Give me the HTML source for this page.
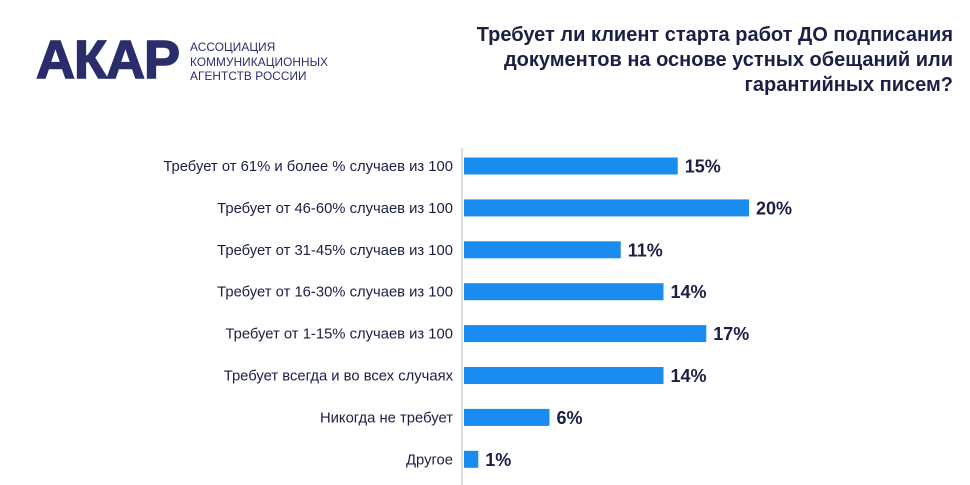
<!DOCTYPE html>
<html><head><meta charset="utf-8"><style>
body{margin:0;width:970px;height:485px;background:#fff;overflow:hidden;position:relative;font-family:"Liberation Sans","DejaVu Sans",sans-serif}
.logo{position:absolute;left:36px;top:30px;font-size:54px;font-weight:900;color:#2b2d6b;letter-spacing:-1px;line-height:60px;-webkit-text-stroke:1.5px #2b2d6b}
.logo-sub{position:absolute;left:190px;top:40px;font-size:11.8px;line-height:14.5px;color:#2b2d6b;letter-spacing:0.1px}
.title{position:absolute;right:17px;top:23px;width:560px;text-align:right;font-size:20px;font-weight:bold;line-height:25px;color:#1b1f45}
</style></head><body>
<div class="logo">АКАР</div>
<div class="logo-sub">АССОЦИАЦИЯ<br>КОММУНИКАЦИОННЫХ<br>АГЕНТСТВ РОССИИ</div>
<div class="title">Требует ли клиент старта работ ДО подписания<br>документов на основе устных обещаний или<br>гарантийных писем?</div>
<svg id="chart" width="970" height="485" style="position:absolute;left:0;top:0"></svg>
<script>
const categories=["Требует от 61% и более % случаев из 100","Требует от 46-60% случаев из 100","Требует от 31-45% случаев из 100","Требует от 16-30% случаев из 100","Требует от 1-15% случаев из 100","Требует всегда и во всех случаях","Никогда не требует","Другое"];
const values=[15,20,11,14,17,14,6,1];
const valueLabels=["15%","20%","11%","14%","17%","14%","6%","1%"];
const svg=document.getElementById('chart');
const NS='http://www.w3.org/2000/svg';
const x0=464,pxPer=14.25,y0=166,step=41.9,bh=17;
const xs=v=>x0+v*pxPer;
const ys=i=>y0+i*step;
const axis=document.createElementNS(NS,'line');
axis.setAttribute('x1',462);axis.setAttribute('x2',462);axis.setAttribute('y1',148);axis.setAttribute('y2',485);
axis.setAttribute('stroke','#bbb');axis.setAttribute('stroke-width','1');


svg.appendChild(axis);
categories.forEach((c,i)=>{
 const y=ys(i);
 const t=document.createElementNS(NS,'text');
 t.setAttribute('x',453);t.setAttribute('y',y+5);t.setAttribute('text-anchor','end');
 t.setAttribute('font-size','14.8');t.setAttribute('fill','#1b1f45');
 t.setAttribute('font-family','"Liberation Sans",sans-serif');
 t.textContent=c;
 
 
 svg.appendChild(t);
 const r=document.createElementNS(NS,'rect');
 r.setAttribute('x',x0);r.setAttribute('y',y-bh/2);r.setAttribute('width',xs(values[i])-x0);r.setAttribute('height',bh);
 r.setAttribute('fill','#1a8cf0');
 
 
 svg.appendChild(r);
 const v=document.createElementNS(NS,'text');
 v.setAttribute('x',xs(values[i])+7);v.setAttribute('y',y+6.5);
 v.setAttribute('font-size','18');v.setAttribute('font-weight','bold');v.setAttribute('fill','#1b1f45');
 v.setAttribute('font-family','"Liberation Sans",sans-serif');
 v.textContent=valueLabels[i];
 
 
 svg.appendChild(v);
});
</script>
</body></html>
